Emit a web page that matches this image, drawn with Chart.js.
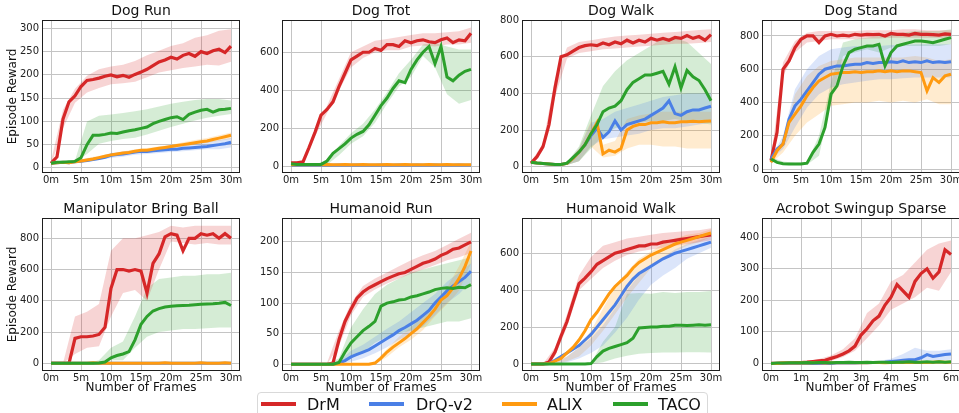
<!DOCTYPE html>
<html>
<head>
<meta charset="utf-8">
<script src="https://cdn.jsdelivr.net/npm/chart.js@4.4.1/dist/chart.umd.min.js"></script>
<style>
  body { margin: 0; background: #fff; width: 959px; height: 413px; overflow: hidden; position: relative; font-family: 'DejaVu Sans', sans-serif; }
  canvas.panel { position: absolute; }
  #legend { position: absolute; left: 257px; top: 392px; width: 451px; height: 30px; border: 1px solid #d9d9d9; border-radius: 4px; box-sizing: border-box; }
  .handle { position: absolute; top: 402px; width: 35px; height: 4px; }
  .label { position: absolute; top: 395px; font-size: 16px; line-height: 20px; color: #111; white-space: nowrap; }
</style>
</head>
<body>
<div id="legend"></div>
<script>
// x positions (millions of frames)
const frames30 = [0,1,2,3,4,5,6,7,8,9,10,11,12,13,14,15,16,17,18,19,20,21,22,23,24,25,26,27,28,29,30];
const frames30Band = [0,2,4,6,8,10,12,14,16,18,20,22,24,26,28,30];
const frames6 = [0,0.2,0.4,0.6,0.8,1,1.2,1.4,1.6,1.8,2,2.2,2.4,2.6,2.8,3,3.2,3.4,3.6,3.8,4,4.2,4.4,4.6,4.8,5,5.2,5.4,5.6,5.8,6];
const frames6Band = [0,0.4,0.8,1.2,1.6,2,2.4,2.8,3.2,3.6,4,4.4,4.8,5.2,5.6,6];
const xTicks30 = [0,5,10,15,20,25,30];
const xTicks6 = [0,1,2,3,4,5,6];

const methods = ['DrM', 'DrQ-v2', 'ALIX', 'TACO'];

// Dog Run
const dogRunTicks = [0,50,100,150,200,250,300];
const dogRunDrM = [10,24,105,142,155,175,188,190,193,197,200,196,199,195,201,206,212,220,228,232,238,234,242,246,240,250,246,252,255,248,262];
const dogRunDrMLo = [5,85,140,162,172,180,182,185,195,205,210,215,218,222,220,228];
const dogRunDrMHi = [15,125,170,198,212,218,222,230,242,252,262,268,280,285,295,298];
const dogRunDrQ = [10,11,12,11,13,14,16,18,20,23,27,29,30,32,34,36,35,37,38,39,40,40,42,43,44,45,46,48,50,52,55];
const dogRunDrQLo = [8,9,11,13,17,21,24,28,30,32,34,36,38,40,40,44];
const dogRunDrQHi = [12,15,16,20,24,32,35,38,40,43,45,48,52,56,60,64];
const dogRunALIX = [10,11,12,11,13,15,17,19,22,25,28,30,32,33,36,38,38,40,42,44,46,48,50,52,54,56,58,61,64,67,70];
const dogRunALIXLo = [8,9,11,14,19,24,28,32,34,38,42,46,50,54,58,62];
const dogRunALIXHi = [12,15,16,21,26,31,35,40,43,46,50,55,60,64,70,76];
const dogRunTACO = [10,12,12,13,14,22,50,70,70,72,75,74,77,80,82,85,88,95,100,104,108,110,104,115,120,124,126,120,125,126,128];
const dogRunTACOLo = [8,10,12,30,52,58,62,65,72,80,88,95,102,108,112,116];
const dogRunTACOHi = [12,14,16,100,112,115,118,122,126,132,138,142,146,148,148,145];

// Dog Trot
const dogTrotTicks = [0,200,400,600];
const dogTrotDrM = [20,20,25,100,180,270,300,340,420,490,560,580,600,600,620,610,640,640,630,660,650,660,665,655,650,665,675,650,665,660,700];
const dogTrotDrMLo = [15,20,160,280,400,520,570,600,610,610,630,635,630,640,640,650];
const dogTrotDrMHi = [25,30,200,320,460,600,630,660,670,680,690,700,700,705,710,730];
const dogTrotDrQ = [8,8,9,8,8,9,8,8,9,8,8,9,8,8,8,9,8,8,9,8,8,9,8,8,9,8,8,8,9,8,8];
const dogTrotALIX = [10,10,10,11,10,10,11,10,10,11,10,10,11,10,10,10,11,10,10,11,10,10,10,11,10,10,11,10,10,10,10];
const dogTrotTACO = [15,12,12,12,12,12,30,70,95,120,150,170,185,220,270,320,360,410,450,440,510,560,600,630,540,630,470,450,480,500,510];
const dogTrotTACOLo = [12,10,10,10,60,120,160,230,330,420,470,580,520,380,330,350];
const dogTrotTACOHi = [18,14,14,30,110,175,225,300,390,490,560,640,650,630,615,615];

// Dog Walk
const dogWalkTicks = [0,200,400,600,800];
const dogWalkDrM = [20,55,110,230,430,600,610,630,650,660,665,660,675,665,680,670,690,675,690,680,700,690,700,690,705,700,715,700,710,690,720];
const dogWalkDrMLo = [15,90,380,590,620,630,640,645,650,655,660,665,670,670,675,680];
const dogWalkDrMHi = [25,130,480,650,680,690,700,710,715,720,725,730,735,740,745,750];
const dogWalkDrQ = [25,20,18,15,12,12,18,45,80,120,170,210,160,190,250,200,230,240,250,260,280,300,320,360,290,280,300,310,310,320,330];
const dogWalkDrQLo = [20,15,10,10,30,110,150,160,170,180,200,210,210,220,230,240];
const dogWalkDrQHi = [30,22,16,25,100,240,260,300,320,340,360,380,390,400,400,400];
const dogWalkALIX = [25,20,18,15,12,12,18,45,80,120,180,240,70,90,80,100,200,220,230,230,240,240,245,240,240,245,245,248,245,248,250];
const dogWalkALIXLo = [20,15,10,10,30,110,50,60,100,120,120,110,110,100,100,100];
const dogWalkALIXHi = [30,22,16,25,100,250,120,140,260,280,290,300,300,300,300,300];
const dogWalkTACO = [25,20,18,15,12,12,20,50,80,120,180,230,300,320,330,360,420,460,480,500,500,510,520,450,545,430,525,490,470,420,360];
const dogWalkTACOLo = [20,15,10,10,30,100,170,210,230,240,250,250,260,250,240,230];
const dogWalkTACOHi = [30,22,16,25,110,280,440,520,580,620,660,700,700,680,620,560];

// Dog Stand
const dogStandTicks = [0,200,400,600,800];
const dogStandDrM = [50,220,600,650,730,780,800,800,760,800,810,800,805,800,810,805,810,808,810,800,815,810,810,805,815,810,810,808,805,812,810];
const dogStandDrMLo = [40,560,700,760,770,780,780,780,785,785,790,790,790,790,790,790];
const dogStandDrMHi = [60,640,770,820,830,830,830,830,835,835,835,840,840,835,835,835];
const dogStandDrQ = [60,120,150,300,380,420,470,520,570,600,610,620,620,625,630,630,640,635,640,640,645,640,650,640,645,640,650,640,645,640,645];
const dogStandDrQLo = [55,120,250,370,450,490,510,520,530,540,540,545,550,550,550,550];
const dogStandDrQHi = [65,200,480,600,680,720,730,740,740,740,745,745,750,750,750,750];
const dogStandALIX = [40,110,150,280,330,380,440,490,530,550,570,575,580,580,585,580,585,585,590,585,590,585,590,590,585,580,470,550,520,560,570];
const dogStandALIXLo = [35,100,200,280,330,380,390,400,400,410,400,410,400,420,390,390];
const dogStandALIXHi = [45,180,450,560,620,650,660,670,670,670,670,670,680,670,650,660];
const dogStandTACO = [60,40,32,30,30,30,35,100,150,250,450,500,620,700,720,730,740,740,750,620,700,740,750,760,770,770,765,760,770,780,790];
const dogStandTACOLo = [50,25,25,25,80,400,680,700,720,700,730,740,740,740,740,750];
const dogStandTACOHi = [70,45,38,40,200,520,760,780,790,800,810,820,830,830,830,840];

// Manipulator Bring Ball
const manipTicks = [0,200,400,600,800];
const manipDrM = [0,0,0,0,160,170,170,175,185,230,480,600,600,590,600,590,450,640,700,810,830,820,720,800,800,830,820,830,800,830,800];
const manipDrMLo = [0,0,60,100,110,300,450,470,400,600,780,770,760,770,760,760];
const manipDrMHi = [0,0,300,330,380,720,800,800,820,840,880,870,880,880,880,880];
const manipDrQ = [0,0,0,0,0,0,0,0,0,0,0,0,0,0,0,0,0,0,0,0,0,0,0,0,0,0,0,0,0,0,0];
const manipALIX = [0,0,0,0,0,0,0,3,0,0,0,0,0,0,0,0,0,0,0,4,0,0,0,0,0,3,0,0,0,4,0];
const manipTACO = [0,0,0,0,0,0,0,0,2,8,35,50,60,75,150,250,300,335,350,360,365,368,370,372,375,378,380,382,385,390,370];
const manipTACOLo = [0,0,0,0,0,20,20,100,170,200,210,220,220,225,230,230];
const manipTACOHi = [0,0,0,0,20,100,140,300,480,540,550,560,560,570,570,580];

// Humanoid Run
const humRunTicks = [0,50,100,150,200];
const humRunDrM = [0,0,0,0,0,0,0,2,40,70,90,108,118,125,130,135,140,144,148,150,155,160,165,168,172,178,182,188,190,195,200];
const humRunDrMLo = [0,0,0,0,30,80,110,122,132,140,148,155,162,170,175,182];
const humRunDrMHi = [0,1,1,2,55,100,128,140,150,160,170,178,185,195,205,215];
const humRunDrQ = [0,0,0,0,0,0,0,0,2,6,12,16,20,24,30,36,42,48,55,60,66,72,80,88,100,110,120,128,135,142,152];
const humRunDrQLo = [0,0,0,0,0,4,10,18,28,40,50,62,80,100,115,135];
const humRunDrQHi = [0,0,0,0,5,22,32,45,58,70,85,100,115,135,150,165];
const humRunALIX = [0,0,0,0,0,0,0,0,0,0,0,0,0,0,2,10,20,28,35,42,50,58,68,78,90,105,112,125,140,160,185];
const humRunALIXLo = [0,0,0,0,0,0,0,0,12,28,40,56,78,98,120,165];
const humRunALIXHi = [0,0,0,0,0,0,0,5,25,45,60,80,100,125,160,200];
const humRunTACO = [0,0,0,0,0,0,0,0,3,20,35,45,55,62,70,95,100,102,105,106,110,112,115,118,122,124,125,124,126,125,130];
const humRunTACOLo = [0,0,0,0,0,10,20,35,45,50,55,60,65,70,70,75];
const humRunTACOHi = [0,0,0,0,10,60,90,115,130,140,150,155,160,165,170,175];

// Humanoid Walk
const humWalkTicks = [0,200,400,600];
const humWalkDrM = [0,0,0,10,65,150,230,335,435,465,500,540,560,580,600,610,620,630,640,640,650,650,660,665,670,675,680,685,690,695,700];
const humWalkDrMLo = [0,0,40,200,400,460,520,560,590,610,620,630,640,650,660,670];
const humWalkDrMHi = [0,0,90,270,480,580,640,660,680,690,700,710,715,720,725,735];
const humWalkDrQ = [0,0,0,2,20,40,60,80,100,130,160,200,240,280,320,370,420,460,490,510,530,550,570,585,600,610,620,630,640,650,660];
const humWalkDrQLo = [0,0,0,10,30,60,100,170,250,350,430,480,520,570,600,630];
const humWalkDrQHi = [0,0,5,40,90,140,210,300,400,480,540,580,620,650,670,690];
const humWalkALIX = [0,0,0,2,15,30,60,90,130,180,240,280,330,380,420,450,480,520,550,570,590,605,620,635,650,660,670,680,690,700,710];
const humWalkALIXLo = [0,0,0,15,40,100,180,270,360,440,520,570,610,640,660,690];
const humWalkALIXHi = [0,0,5,40,90,180,300,420,500,570,610,650,680,700,710,730];
const humWalkTACO = [0,0,0,0,0,0,0,0,0,0,2,40,70,85,95,105,115,140,195,198,200,200,205,205,210,210,208,210,212,210,212];
const humWalkTACOLo = [0,0,0,0,0,0,10,30,45,55,60,62,62,63,63,62];
const humWalkTACOHi = [0,0,0,0,0,5,120,200,380,385,380,390,385,390,390,395];

// Acrobot Swingup Sparse (0-6m frames)
const acroTicks = [0,100,200,300,400];
const acroDrM = [0,0,1,1,2,3,4,6,8,10,16,22,30,40,55,90,110,135,150,185,210,250,230,210,260,285,300,270,290,360,345];
const acroDrMLo = [0,0,0,1,4,8,20,40,80,120,170,190,210,240,230,290];
const acroDrMHi = [0,2,4,8,14,25,45,80,160,190,260,280,320,360,380,390];
const acroDrQ = [0,0,0,0,0,0,0,0,0,0,0,1,1,1,1,2,2,3,3,4,6,8,10,12,12,18,28,22,25,28,30];
const acroDrQLo = [0,0,0,0,0,0,0,0,0,0,2,5,8,10,10,12];
const acroDrQHi = [0,0,0,0,1,2,3,4,5,8,15,30,50,40,40,45];
const acroALIX = [0,0,1,1,1,2,1,2,2,1,2,2,3,2,2,3,2,3,3,2,3,3,4,3,3,4,3,4,5,4,4];
const acroTACO = [0,1,1,2,2,2,3,2,3,3,2,3,3,4,3,3,4,3,4,4,3,4,4,5,4,4,5,4,5,4,5];

const lineColors = ['#d62728', '#4a7fe6', '#ff9a10', '#2ca02c'];
const bandColors = ['rgba(214,39,40,0.2)', 'rgba(74,127,230,0.2)', 'rgba(255,154,16,0.2)', 'rgba(44,160,44,0.2)'];

Chart.defaults.font.family = "'DejaVu Sans', sans-serif";
Chart.defaults.color = '#222';

const panels = [
  { title: 'Dog Run', row: 0, col: 0, x: frames30, xb: frames30Band, xTicks: xTicks30, xMin: -1.5, xMax: 31.5, yMin: -11, yMax: 318, yTicks: dogRunTicks,
    mean: [dogRunDrM, dogRunDrQ, dogRunALIX, dogRunTACO], lo: [dogRunDrMLo, dogRunDrQLo, dogRunALIXLo, dogRunTACOLo], hi: [dogRunDrMHi, dogRunDrQHi, dogRunALIXHi, dogRunTACOHi] },
  { title: 'Dog Trot', row: 0, col: 1, x: frames30, xb: frames30Band, xTicks: xTicks30, xMin: -1.5, xMax: 31.5, yMin: -33, yMax: 769, yTicks: dogTrotTicks,
    mean: [dogTrotDrM, dogTrotDrQ, dogTrotALIX, dogTrotTACO], lo: [dogTrotDrMLo, null, null, dogTrotTACOLo], hi: [dogTrotDrMHi, null, null, dogTrotTACOHi] },
  { title: 'Dog Walk', row: 0, col: 2, x: frames30, xb: frames30Band, xTicks: xTicks30, xMin: -1.5, xMax: 31.5, yMin: -34, yMax: 800, yTicks: dogWalkTicks,
    mean: [dogWalkDrM, dogWalkDrQ, dogWalkALIX, dogWalkTACO], lo: [dogWalkDrMLo, dogWalkDrQLo, dogWalkALIXLo, dogWalkTACOLo], hi: [dogWalkDrMHi, dogWalkDrQHi, dogWalkALIXHi, dogWalkTACOHi] },
  { title: 'Dog Stand', row: 0, col: 3, x: frames30, xb: frames30Band, xTicks: xTicks30, xMin: -1.5, xMax: 31.5, yMin: -24, yMax: 896, yTicks: dogStandTicks,
    mean: [dogStandDrM, dogStandDrQ, dogStandALIX, dogStandTACO], lo: [dogStandDrMLo, dogStandDrQLo, dogStandALIXLo, dogStandTACOLo], hi: [dogStandDrMHi, dogStandDrQHi, dogStandALIXHi, dogStandTACOHi] },
  { title: 'Manipulator Bring Ball', row: 1, col: 0, x: frames30, xb: frames30Band, xTicks: xTicks30, xMin: -1.5, xMax: 31.5, yMin: -49, yMax: 930, yTicks: manipTicks,
    mean: [manipDrM, manipDrQ, manipALIX, manipTACO], lo: [manipDrMLo, null, null, manipTACOLo], hi: [manipDrMHi, null, null, manipTACOHi] },
  { title: 'Humanoid Run', row: 1, col: 1, x: frames30, xb: frames30Band, xTicks: xTicks30, xMin: -1.5, xMax: 31.5, yMin: -11, yMax: 239, yTicks: humRunTicks,
    mean: [humRunDrM, humRunDrQ, humRunALIX, humRunTACO], lo: [humRunDrMLo, humRunDrQLo, humRunALIXLo, humRunTACOLo], hi: [humRunDrMHi, humRunDrQHi, humRunALIXHi, humRunTACOHi] },
  { title: 'Humanoid Walk', row: 1, col: 2, x: frames30, xb: frames30Band, xTicks: xTicks30, xMin: -1.5, xMax: 31.5, yMin: -38, yMax: 791, yTicks: humWalkTicks,
    mean: [humWalkDrM, humWalkDrQ, humWalkALIX, humWalkTACO], lo: [humWalkDrMLo, humWalkDrQLo, humWalkALIXLo, humWalkTACOLo], hi: [humWalkDrMHi, humWalkDrQHi, humWalkALIXHi, humWalkTACOHi] },
  { title: 'Acrobot Swingup Sparse', row: 1, col: 3, x: frames6, xb: frames6Band, xTicks: xTicks6, xMin: -0.3, xMax: 6.3, yMin: -24, yMax: 461, yTicks: acroTicks,
    mean: [acroDrM, acroDrQ, acroALIX, acroTACO], lo: [acroDrMLo, acroDrQLo, null, null], hi: [acroDrMHi, acroDrQHi, null, null] }
];

// draws the full box around the plot area like matplotlib spines
const frameBox = {
  id: 'frameBox',
  afterDatasetsDraw(chart) {
    const { ctx, chartArea: a } = chart;
    ctx.save();
    ctx.strokeStyle = '#1e1e1e';
    ctx.lineWidth = 1;
    ctx.strokeRect(a.left + 0.5, a.top + 0.5, a.right - a.left - 1, a.bottom - a.top - 1);
    ctx.restore();
  }
};

panels.forEach(p => {
  const canvas = document.createElement('canvas');
  canvas.className = 'panel';
  const xh = p.row === 0 ? 16 : 26;
  canvas.width = 254;
  canvas.height = p.row === 0 ? 173 + xh : 371 + xh - 198;
  canvas.style.left = (p.col * 240) + 'px';
  canvas.style.top = (p.row === 0 ? 0 : 198) + 'px';
  document.body.appendChild(canvas);

  const datasets = [];
  // shaded bands (lo then hi filled down to lo)
  p.lo.forEach((lo, k) => {
    if (!lo) return;
    datasets.push({ data: p.xb.map((x, i) => ({ x, y: lo[i] })), borderWidth: 0, borderColor: 'rgba(0,0,0,0)', pointRadius: 0, fill: false, order: 20 + k });
    datasets.push({ data: p.xb.map((x, i) => ({ x, y: p.hi[k][i] })), borderWidth: 0, borderColor: 'rgba(0,0,0,0)', pointRadius: 0, fill: '-1', backgroundColor: bandColors[k], order: 20 + k });
  });
  // mean curves, TACO drawn on top like the original
  p.mean.forEach((m, k) => {
    datasets.push({ label: methods[k], data: p.x.map((x, i) => ({ x, y: m[i] })), borderColor: lineColors[k], borderWidth: k === 0 ? 3.2 : 3, pointRadius: 0, fill: false, tension: 0, order: 4 - k });
  });

  new Chart(canvas, {
    type: 'line',
    data: { datasets },
    plugins: [frameBox],
    options: {
      responsive: false,
      animation: false,
      layout: { padding: { left: 0, right: 14, top: 0, bottom: 0 } },
      plugins: {
        legend: { display: false },
        tooltip: { enabled: false },
        title: { display: true, fullSize: false, text: p.title, font: { size: 14, weight: 'normal' }, color: '#111', padding: { top: 3, bottom: 0.2 } }
      },
      scales: {
        x: {
          type: 'linear', min: p.xMin, max: p.xMax,
          afterBuildTicks: a => { a.ticks = p.xTicks.map(v => ({ value: v })); },
          afterFit: s => { s.height = xh; },
          ticks: { callback: v => v + 'm', font: { size: 10 }, color: '#222', padding: 1, maxRotation: 0, autoSkip: false },
          grid: { color: '#c4c4c4', lineWidth: 1, drawTicks: false },
          border: { display: false },
          title: { display: p.row === 1, text: 'Number of Frames', font: { size: 12 }, color: '#111', padding: { top: 0, bottom: 1.5 } }
        },
        y: {
          type: 'linear', min: p.yMin, max: p.yMax,
          afterBuildTicks: a => { a.ticks = p.yTicks.map(v => ({ value: v })); },
          afterFit: s => { s.width = 42; },
          ticks: { font: { size: 10 }, color: '#222', padding: 3, autoSkip: false },
          grid: { color: '#c4c4c4', lineWidth: 1, drawTicks: false },
          border: { display: false },
          title: { display: p.col === 0, text: 'Episode Reward', font: { size: 12 }, color: '#111', padding: { top: 6, bottom: 0 } }
        }
      }
    }
  });
});

// legend row under the grid
const legend = document.getElementById('legend');
const handleX = [261, 369, 502, 613];
const labelX = [307, 416, 547, 658];
methods.forEach((name, k) => {
  const h = document.createElement('div');
  h.className = 'handle';
  h.style.left = handleX[k] + 'px';
  h.style.background = lineColors[k];
  document.body.appendChild(h);
  const t = document.createElement('div');
  t.className = 'label';
  t.style.left = labelX[k] + 'px';
  t.textContent = name;
  document.body.appendChild(t);
});
</script>
</body>
</html>
